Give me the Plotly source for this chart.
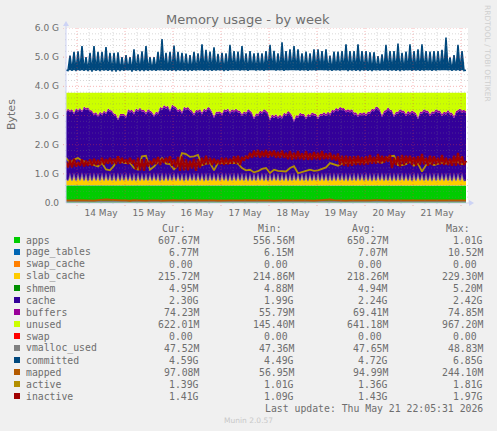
import numpy as np
import pandas as pd
import plotly.graph_objects as go

W, H = 497, 431
PX_L, PX_R, PX_T, PX_B = 66, 468, 28, 203

# ---- values in GiB; one sample per hour, spikes every 2 h ----
committed_even = [
 4.55,5.05,5.18,5.20,5.38,5.00,5.15,5.38,5.18,5.18,
 5.35,5.15,5.15,5.17,5.00,5.07,5.00,5.27,5.10,5.20,
 5.38,5.00,5.00,5.18,5.62,5.15,5.18,5.40,5.18,5.15,
 5.12,5.07,5.18,5.13,5.44,5.25,5.19,5.34,5.11,5.15,
 5.13,5.42,5.21,5.19,5.38,5.13,5.21,5.13,5.15,5.13,
 5.21,5.42,5.22,5.13,5.51,5.21,5.27,5.38,5.27,5.13,
 5.19,5.13,5.27,5.27,5.21,5.27,5.05,5.19,5.19,5.21,
 5.44,5.21,5.21,5.44,5.21,5.21,5.17,5.17,5.04,5.10,
 5.42,5.21,5.21,5.47,5.15,5.19,5.44,5.21,5.27,5.44,
 5.21,5.19,5.21,5.21,5.25,5.67,4.99,5.07,5.42,5.21,
 4.55]
committed_odd = [
 4.54,4.53,4.52,4.54,4.53,4.52,4.50,4.53,4.52,4.54,
 4.53,4.51,4.50,4.52,4.53,4.55,4.50,4.53,4.52,4.52,
 4.53,4.54,4.53,4.55,4.54,4.53,4.53,4.52,4.54,4.53,
 4.52,4.53,4.54,4.55,4.53,4.54,4.53,4.54,4.55,4.52,
 4.53,4.55,4.56,4.54,4.55,4.53,4.56,4.54,4.55,4.53,
 4.55,4.56,4.54,4.55,4.53,4.55,4.56,4.55,4.54,4.55,
 4.53,4.55,4.54,4.56,4.55,4.54,4.53,4.55,4.54,4.55,
 4.52,4.54,4.53,4.52,4.54,4.53,4.52,4.55,4.54,4.55,
 4.53,4.54,4.53,4.52,4.54,4.55,4.53,4.54,4.53,4.54,
 4.55,4.53,4.54,4.55,4.56,4.55,4.53,4.54,4.53,4.54]

used_even = [
 3.15,3.17,3.10,3.19,3.17,3.25,3.19,3.07,3.02,3.07,
 3.10,3.19,3.07,2.90,3.05,2.98,3.17,3.10,3.19,3.19,
 3.10,3.17,3.02,3.10,3.25,3.30,3.19,3.33,3.19,3.13,
 3.25,3.21,3.07,3.17,3.10,3.19,3.25,2.98,3.13,3.07,
 3.19,3.13,3.17,3.17,3.05,3.10,3.17,2.94,3.05,3.13,
 3.17,2.90,2.98,2.96,2.96,3.05,3.10,2.85,2.98,3.05,
 2.94,3.02,3.07,2.94,3.05,3.05,3.07,3.17,3.21,3.25,
 3.17,3.17,3.10,3.02,3.07,3.05,3.13,3.21,3.28,3.02,
 3.19,3.21,3.02,3.13,3.17,3.05,3.10,3.13,2.94,3.13,
 3.17,3.05,3.13,3.17,3.05,3.10,3.10,2.98,3.19,3.17,
 3.15]
used_odd = [
 3.24,3.22,3.26,3.27,3.32,3.28,3.17,3.12,3.14,3.17,
 3.25,3.17,3.04,3.05,3.06,3.22,3.20,3.25,3.27,3.20,
 3.22,3.13,3.14,3.30,3.36,3.33,3.38,3.29,3.24,3.31,
 3.30,3.17,3.20,3.22,3.25,3.30,3.14,3.14,3.15,3.22,
 3.25,3.22,3.24,3.16,3.15,3.22,3.10,3.08,3.17,3.22,
 3.10,3.04,3.05,3.03,3.10,3.16,3.02,3.02,3.10,3.06,
 3.06,3.11,3.06,3.07,3.12,3.14,3.20,3.27,3.30,3.26,
 3.22,3.22,3.11,3.11,3.12,3.14,3.24,3.32,3.20,3.16,
 3.28,3.18,3.14,3.22,3.17,3.16,3.18,3.09,3.14,3.22,
 3.17,3.15,3.22,3.17,3.14,3.20,3.10,3.15,3.24,3.20]

slab_top_even = [
 0.80,0.87,0.88,0.87,0.89,0.87,0.86,0.88,0.87,0.89,
 0.88,0.86,0.87,0.88,0.87,0.89,0.88,0.86,0.88,0.87,
 0.87,0.89,0.88,0.87,0.86,0.88,0.87,0.89,0.88,0.87,
 0.86,0.88,0.87,0.89,0.88,0.86,0.87,0.88,0.87,0.88,
 0.86,0.87,0.88,0.87,0.86,0.88,0.87,0.86,0.88,0.87,
 0.86,0.87,0.88,0.86,0.87,0.88,0.86,0.87,0.88,0.87,
 0.86,0.88,0.87,0.86,0.87,0.88,0.86,0.87,0.88,0.87,
 0.86,0.88,0.87,0.86,0.88,0.87,0.86,0.87,0.88,0.87,
 0.86,0.88,0.87,0.86,0.87,0.88,0.86,0.87,0.88,0.87,
 0.86,0.87,0.88,0.86,0.87,0.88,0.86,0.87,0.88,0.87,
 0.76]
slab_top_odd = [
 0.75,0.74,0.74,0.75,0.74,0.73,0.74,0.75,0.74,0.74,
 0.75,0.74,0.73,0.74,0.75,0.74,0.74,0.73,0.74,0.75,
 0.74,0.74,0.75,0.73,0.74,0.74,0.75,0.74,0.74,0.73,
 0.74,0.75,0.74,0.74,0.73,0.74,0.75,0.74,0.74,0.75,
 0.73,0.74,0.74,0.75,0.74,0.73,0.74,0.74,0.75,0.74,
 0.73,0.74,0.75,0.74,0.74,0.73,0.74,0.75,0.74,0.74,
 0.73,0.74,0.75,0.74,0.74,0.73,0.74,0.74,0.75,0.74,
 0.73,0.74,0.74,0.75,0.74,0.74,0.73,0.74,0.75,0.74,
 0.74,0.73,0.74,0.75,0.74,0.74,0.73,0.74,0.75,0.74,
 0.74,0.73,0.74,0.75,0.74,0.74,0.73,0.74,0.75,0.74]
fringe_even = [
 0.80,1.07,1.10,1.06,1.12,1.08,1.06,1.10,1.07,1.09,
 1.11,1.06,1.08,1.10,1.07,1.09,1.06,1.11,1.08,1.07,
 1.10,1.06,1.09,1.08,1.11,1.07,1.06,1.10,1.08,1.07,
 1.09,1.06,1.10,1.08,1.07,1.11,1.06,1.09,1.08,1.10,
 1.07,1.06,1.09,1.08,1.10,1.07,1.06,1.10,1.08,1.07,
 1.09,1.06,1.11,1.08,1.07,1.10,1.06,1.09,1.08,1.07,
 1.10,1.06,1.08,1.11,1.07,1.09,1.06,1.10,1.08,1.07,
 1.09,1.06,1.10,1.08,1.07,1.11,1.06,1.09,1.08,1.10,
 1.07,1.06,1.09,1.08,1.10,1.07,1.06,1.10,1.08,1.07,
 1.09,1.06,1.11,1.08,1.07,1.10,1.06,1.09,1.08,1.07,
 0.80]

inactive_even = [
 1.40,1.48,1.52,1.40,1.50,1.45,1.50,1.52,1.48,1.55,
 1.50,1.55,1.52,1.60,1.55,1.50,1.55,1.48,1.55,1.50,
 1.50,1.45,1.52,1.58,1.52,1.55,1.60,1.50,1.58,1.60,
 1.50,1.45,1.52,1.50,1.55,1.62,1.55,1.52,1.48,1.55,
 1.55,1.52,1.60,1.62,1.58,1.62,1.72,1.80,1.82,1.78,
 1.82,1.78,1.80,1.75,1.80,1.72,1.78,1.72,1.78,1.70,
 1.78,1.70,1.75,1.72,1.78,1.70,1.72,1.65,1.70,1.62,
 1.62,1.60,1.60,1.62,1.58,1.60,1.65,1.58,1.68,1.62,
 1.60,1.65,1.55,1.60,1.65,1.62,1.62,1.58,1.60,1.68,
 1.55,1.62,1.60,1.55,1.65,1.55,1.52,1.62,1.72,1.60,
 1.45]
inactive_odd = [
 1.22,1.22,1.25,1.28,1.25,1.27,1.27,1.30,1.30,1.32,
 1.35,1.33,1.33,1.35,1.38,1.33,1.35,1.15,1.12,1.10,
 1.25,1.30,1.33,1.30,1.38,1.37,1.28,1.20,1.10,1.12,
 1.12,1.18,1.10,1.22,1.30,1.32,1.30,1.33,1.32,1.30,
 1.32,1.35,1.35,1.30,1.45,1.52,1.55,1.58,1.55,1.58,
 1.55,1.60,1.55,1.55,1.55,1.50,1.48,1.50,1.50,1.48,
 1.48,1.48,1.50,1.48,1.50,1.50,1.48,1.45,1.30,1.28,
 1.25,1.28,1.30,1.30,1.30,1.32,1.35,1.35,1.35,1.38,
 1.42,1.20,1.30,1.25,1.30,1.35,1.30,1.28,1.30,1.32,
 1.28,1.30,1.32,1.32,1.30,1.30,1.28,1.28,1.30,1.30]

active_even = [
 1.55,1.37,1.49,1.54,1.45,1.40,1.37,1.32,1.25,1.37,1.15,
 1.12,1.28,1.54,1.40,1.37,1.37,1.20,1.15,1.60,1.62,
 1.14,1.25,1.40,1.54,1.35,1.33,1.15,1.30,1.71,1.68,
 1.58,1.60,1.65,1.30,1.35,1.38,1.12,1.38,1.37,1.38,
 1.37,1.38,1.35,1.20,1.12,1.14,1.05,1.09,1.17,1.20,
 1.03,1.14,1.10,1.08,1.08,1.20,1.26,1.02,1.07,1.10,
 1.14,1.10,1.12,1.18,1.22,1.37,1.32,1.28,1.35,1.38,
 1.38,1.40,1.40,1.42,1.40,1.45,1.45,1.42,1.38,1.50,
 1.60,1.62,1.30,1.30,1.33,1.42,1.28,1.35,1.08,1.30,
 1.37,1.30,1.35,1.38,1.35,1.40,1.42,1.40,1.33,1.39]
mapped_even = [
 0.09,0.08,0.09,0.10,0.09,0.10,0.09,0.08,0.10,0.12,
 0.12,0.11,0.10,0.08,0.09,0.09,0.08,0.10,0.09,0.09,
 0.08,0.09,0.10,0.09,0.08,0.09,0.09,0.10,0.09,0.08,
 0.09,0.10,0.09,0.08,0.09,0.09,0.10,0.09,0.08,0.09,
 0.10,0.09,0.09,0.08,0.09,0.10,0.09,0.08,0.09,0.09,
 0.10,0.09,0.08,0.09,0.09,0.10,0.09,0.08,0.09,0.10,
 0.09,0.09,0.08,0.09,0.10,0.11,0.12,0.10,0.09,0.09,
 0.08,0.09,0.10,0.09,0.09,0.08,0.09,0.10,0.11,0.10,
 0.09,0.09,0.08,0.09,0.10,0.09,0.08,0.09,0.09,0.10,
 0.09,0.08,0.09,0.09,0.10,0.09,0.08,0.09,0.10,0.09,
 0.09]

# slowly changing series: one value held for each six-hour block
apps_blocks = [
 0.60,0.60,0.59,0.60,0.59,0.60,0.59,0.59,0.60,0.59,0.60,0.59,
 0.59,0.60,0.59,0.60,0.60,0.59,0.60,0.59,0.59,0.60,0.59,0.60,
 0.59,0.60,0.60,0.59,0.60,0.59,0.60,0.59,0.60,0.59]
buffers_blocks = [
 0.056,0.058,0.060,0.061,0.062,0.063,0.064,0.065,0.065,0.066,0.066,0.067,
 0.067,0.068,0.068,0.068,0.069,0.069,0.069,0.070,0.070,0.070,0.071,0.071,
 0.071,0.071,0.072,0.072,0.072,0.072,0.072,0.072,0.072,0.072]
page_tables_blocks = [0.007,0.007,0.007,0.007,0.006,0.007,0.007,0.007,0.007]
shmem_blocks = [0.005,0.005,0.005,0.005,0.005,0.005,0.005,0.005,0.005]
vmalloc_blocks = [0.046,0.046,0.047,0.047,0.046,0.046,0.046,0.046,0.046]
ram_total = 3.78

series_names = ["apps","page_tables","swap_cache","slab_cache","shmem","cache","buffers","unused",
                "swap","vmalloc_used","committed","mapped","active","inactive"]
series_colors = ["#00CC00","#0066B3","#FF8000","#FFCC00","#009000","#330099","#990099","#CCFF00",
                 "#FF0000","#808080","#00487D","#B35A00","#B38F00","#A00000"]
cur_vals = ["607.67M","6.77M","0.00 ","215.72M","4.95M","2.30G","74.23M","622.01M","0.00 ","47.52M","4.59G","97.08M","1.39G","1.41G"]
min_vals = ["556.56M","6.15M","0.00 ","214.86M","4.88M","1.99G","55.79M","145.40M","0.00 ","47.36M","4.49G","56.95M","1.01G","1.09G"]
avg_vals = ["650.27M","7.07M","0.00 ","218.26M","4.94M","2.24G","69.41M","641.18M","0.00 ","47.65M","4.72G","94.99M","1.36G","1.43G"]
max_vals = ["1.01G","10.52M","0.00 ","229.30M","5.20M","2.42G","74.85M","967.20M","0.00 ","48.83M","6.85G","244.10M","1.81G","1.97G"]
y_ticks = [0,1,2,3,4,5,6]
y_tick_labels = ["0.0","1.0 G","2.0 G","3.0 G","4.0 G","5.0 G","6.0 G"]
day_labels = ["14 May","15 May","16 May","17 May","18 May","19 May","20 May","21 May"]

# ---- helpers ----
N = 201
t0 = pd.Timestamp("2026-05-13 18:30")          # left edge of the drawing
times = pd.date_range(t0, periods=N, freq="h")
tx = [t.strftime("%Y-%m-%d %H:%M") for t in times]

def weave(even, odd):
    out = np.zeros(N)
    out[0::2] = even
    out[1::2] = odd
    return out

def hold(blocks):
    return np.array([blocks[k * len(blocks) // N] for k in range(N)])

def fx(p): return (p - PX_L) / (PX_R - PX_L)
def fy(p): return (PX_B - p) / (PX_B - PX_T)

apps = hold(apps_blocks)
page_tables = hold(page_tables_blocks)
shmem = hold(shmem_blocks)
buffers = hold(buffers_blocks)
slab_top = weave(slab_top_even, slab_top_odd)
used_top = weave(used_even, used_odd)
slab = slab_top - apps - page_tables
cache = used_top - buffers - shmem - slab_top
unused = ram_total - used_top
zeros = np.zeros(N)

fig = go.Figure()
stack = [("apps", apps), ("page_tables", page_tables), ("swap_cache", zeros), ("slab_cache", slab),
         ("shmem", shmem), ("cache", cache), ("buffers", buffers), ("unused", unused)]
color_of = dict(zip(series_names, series_colors))
for name, vals in stack:
    fig.add_trace(go.Scatter(x=tx, y=vals, name=name, mode="lines", stackgroup="mem",
                             line=dict(width=0, color=color_of[name]),
                             fillcolor=color_of[name], hoverinfo="skip"))

# pale columns that rise from the slab_cache tips into the cache area
fig.add_trace(go.Scatter(
    x=tx, y=weave(fringe_even, slab_top_odd), mode="lines", fill="toself",
    line=dict(width=0), hoverinfo="skip", name="slab_fringe",
    fillgradient=dict(type="vertical", colorscale=[
        [0.0, "rgba(255,210,30,0.0)"], [0.33, "rgba(205,185,130,0.75)"],
        [0.65, "rgba(135,115,190,0.75)"], [1.0, "rgba(51,0,153,0.0)"]])))

fig.add_trace(go.Scatter(x=tx, y=hold(vmalloc_blocks), mode="lines", name="vmalloc_used",
                         line=dict(color=color_of["vmalloc_used"], width=1.6), hoverinfo="skip"))
fig.add_trace(go.Scatter(x=tx, y=weave(committed_even, committed_odd), mode="lines", name="committed",
                         fill="toself", fillcolor=color_of["committed"],
                         line=dict(color=color_of["committed"], width=1.6), hoverinfo="skip"))
fig.add_trace(go.Scatter(x=tx[0::2], y=mapped_even, mode="lines", name="mapped",
                         line=dict(color=color_of["mapped"], width=1.9), hoverinfo="skip"))
fig.add_trace(go.Scatter(x=tx[0::2], y=active_even, mode="lines", name="active",
                         line=dict(color=color_of["active"], width=1.8), hoverinfo="skip"))
fig.add_trace(go.Scatter(x=tx, y=weave(inactive_even, inactive_odd), mode="lines", name="inactive",
                         line=dict(color=color_of["inactive"], width=2.2), hoverinfo="skip"))

# ---- grid above the data, as in the source image ----
shapes = []
MINOR = "rgba(125,125,125,0.30)"
MAJOR = "rgba(235,60,60,0.38)"
dash = "1px,2px"
x_right = t0 + pd.Timedelta(minutes=int((PX_R - PX_L) * 30))
for t in pd.date_range("2026-05-13 18:00", x_right, freq="6h"):
    if t < t0 or t.hour == 0:
        continue
    shapes.append(dict(type="line", xref="x", yref="paper", x0=t, x1=t, y0=-1/175, y1=1,
                       line=dict(color=MINOR, width=1, dash=dash), layer="above"))
for t in pd.date_range("2026-05-14", x_right, freq="D"):
    shapes.append(dict(type="line", xref="x", yref="paper", x0=t, x1=t, y0=-3/175, y1=1,
                       line=dict(color=MAJOR, width=1, dash=dash), layer="above"))
for i in range(1, 31):
    v = i * 0.2
    major = i % 5 == 0
    shapes.append(dict(type="line", xref="paper", yref="y", x0=-(3 if major else 1)/402, x1=1, y0=v, y1=v,
                       line=dict(color=MAJOR if major else MINOR, width=1, dash=dash), layer="above"))

# axis lines and arrow heads
AX = "#CDD3F5"
shapes.append(dict(type="line", xref="paper", yref="paper", x0=0, x1=0, y0=0, y1=fy(24), line=dict(color=AX, width=1)))
shapes.append(dict(type="line", xref="paper", yref="paper", x0=0, x1=fx(472), y0=0, y1=0, line=dict(color=AX, width=1)))
shapes.append(dict(type="path", xref="paper", yref="paper", fillcolor=AX, line=dict(width=0),
                   path=f"M {fx(63)} {fy(26)} L {fx(69)} {fy(26)} L {fx(66)} {fy(21)} Z"))
shapes.append(dict(type="path", xref="paper", yref="paper", fillcolor=AX, line=dict(width=0),
                   path=f"M {fx(469)} {fy(200)} L {fx(469)} {fy(206)} L {fx(474)} {fy(203)} Z"))

# ---- texts ----
GRAY = "#6e6e6e"
ann = []
def text(px, py, s, size, font="DejaVu Sans", color=GRAY, anchor="left", angle=0):
    ann.append(dict(xref="paper", yref="paper", x=fx(px), y=fy(py), text=s, showarrow=False,
                    xanchor=anchor, yanchor="middle", textangle=angle, borderpad=0, borderwidth=0,
                    font=dict(family=font, size=size, color=color)))

MONO = "DejaVu Sans Mono"
text(248, 19, "Memory usage - by week", 13, anchor="center")
text(11, 115, "Bytes", 11, anchor="center", angle=-90)
text(488, 53, "RRDTOOL / TOBI OETIKER", 7.5, color="#cfcfcf", anchor="center", angle=90)
for label, px in (("Cur:", 186), ("Min:", 282), ("Avg:", 376), ("Max:", 470)):
    text(px, 228, label, 9.8, font=MONO, anchor="right")
for i, name in enumerate(series_names):
    py = 240 + 12 * i
    text(26, py, name, 9.8, font=MONO)
    for vals, px in ((cur_vals, 199), (min_vals, 294), (avg_vals, 388), (max_vals, 483)):
        text(px, py, vals[i].replace(" ", "\u00a0"), 9.8, font=MONO, anchor="right")
    shapes.append(dict(type="rect", xref="paper", yref="paper", x0=fx(14), x1=fx(20),
                       y0=fy(py + 3), y1=fy(py - 3), fillcolor=series_colors[i], line=dict(width=0)))
text(483, 408, "Last update: Thu May 21 22:05:31 2026", 9.8, font=MONO, anchor="right")
text(248, 420, "Munin 2.0.57", 7.5, color="#c8c8c8", anchor="center")

noon = [pd.Timestamp("2026-05-14 12:00") + pd.Timedelta(days=i) for i in range(len(day_labels))]

fig.update_layout(
    width=W, height=H, autosize=False, showlegend=False,
    paper_bgcolor="#F0F0F0", plot_bgcolor="#FFFFFF",
    margin=dict(l=PX_L, r=W - PX_R, t=PX_T, b=H - PX_B, pad=0),
    xaxis=dict(type="date", range=[t0, x_right], tickvals=noon, ticktext=day_labels, ticks="",
               showgrid=False, zeroline=False, showline=False,
               tickfont=dict(family="DejaVu Sans", size=9, color=GRAY), ticklabelstandoff=3),
    yaxis=dict(range=[0, 6], tickvals=y_ticks, ticktext=y_tick_labels, ticks="",
               showgrid=False, zeroline=False, showline=False,
               tickfont=dict(family="DejaVu Sans", size=9, color=GRAY), ticklabelstandoff=6),
    shapes=shapes, annotations=ann,
)
fig.write_html("out.html", config={"displayModeBar": False},
               post_script="document.body.style.margin='0';document.body.style.background='#F0F0F0';")
